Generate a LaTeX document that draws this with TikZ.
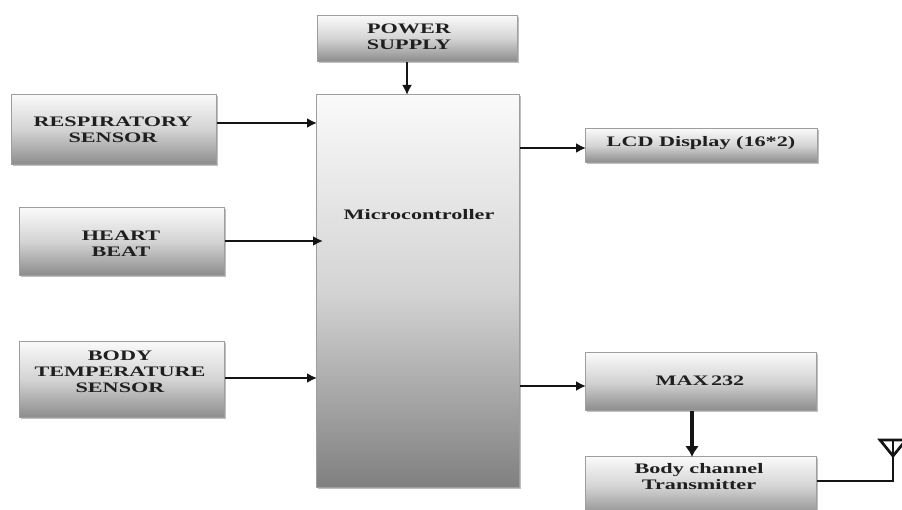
\documentclass[tikz,border=0pt]{standalone}
\usepackage{fontspec}
\setmainfont[FakeStretch=1.53]{Liberation Serif}
\usetikzlibrary{arrows.meta,shadows}
\newcommand{\blockfont}{\fontsize{14.5pt}{16pt}\selectfont\bfseries}
\tikzset{
  block/.style={rectangle,draw=black!38,line width=1.1pt,top color=black!2,bottom color=black!45,middle color=black!17,
    general shadow={fill=black!25,shadow xshift=1.5pt,shadow yshift=-1.5pt},
    align=center,font=\blockfont,text=black!88,inner sep=0pt,anchor=north west},
  blocktext/.style={font=\blockfont,text=black!88,align=center,inner sep=0pt},
  link/.style={draw=black!92,line width=2.7pt,-{Latex[length=10pt,width=10pt]},shorten >=-1pt},
  thick link/.style={link,line width=3.8pt,-{Latex[length=11pt,width=14pt]}},
  wire/.style={draw=black!92,line width=2.7pt}
}
\begin{document}
\begin{tikzpicture}[x=1pt,y=-1pt]
\useasboundingbox (0,0) rectangle (902,510);
\clip (0,0) rectangle (902,510);
\node[block,minimum width=200pt,minimum height=46pt] (power) at (317,15) {};
\node[blocktext] (powertext) at (409,37) {POWER\\SUPPLY};
\node[block,minimum width=203pt,minimum height=393pt,bottom color=black!50,middle color=black!17] (mcu) at (316,94) {};
\node[blocktext] (mcutext) at (419,215) {Microcontroller};
\node[block,minimum width=205pt,minimum height=70pt] (resp) at (11,94) {};
\node[blocktext] (resptext) at (113,130) {RESPIRATORY\\SENSOR};
\node[block,minimum width=205pt,minimum height=68pt] (heart) at (19,207) {};
\node[blocktext] (hearttext) at (121,244) {HEART\\BEAT};
\node[block,minimum width=205pt,minimum height=76pt] (temp) at (19,341) {};
\node[blocktext] (temptext) at (120,371.5) {BODY\\TEMPERATURE\\SENSOR};
\node[block,minimum width=232pt,minimum height=34pt] (lcd) at (585,128) {};
\node[blocktext] (lcdtext) at (701,143) {LCD Display (16*2)};
\node[block,minimum width=231pt,minimum height=58pt] (max) at (585,352) {};
\node[blocktext] (maxtext) at (700,381) {MAX\,232};
\node[block,minimum width=231pt,minimum height=60pt] (tx) at (585,456) {};
\node[blocktext] (txtext) at (699,477) {Body channel\\Transmitter};
\draw[link] (power.south -| 407,0) -- (407,94);
\draw[link] (resp.east |- 0,123) -- (mcu.west |- 0,123);
\draw[link] (heart.east |- 0,241) -- (322,241);
\draw[link] (temp.east |- 0,378) -- (mcu.west |- 0,378);
\draw[link] (mcu.east |- 0,148) -- (lcd.west |- 0,148);
\draw[link] (mcu.east |- 0,386) -- (max.west |- 0,386);
\draw[thick link] (max.south -| 692,0) -- (tx.north -| 692,0);
\coordinate (antfoot) at (893,481);
\coordinate (anttop) at (893,440);
\coordinate (antl) at (880,440);
\coordinate (antr) at (906,440);
\coordinate (antapex) at (893,456);
\draw[wire] (tx.east |- antfoot) -- (antfoot) -- (anttop);
\draw[wire] (antl) -- (antr) -- (antapex) -- cycle;
\end{tikzpicture}
\end{document}
